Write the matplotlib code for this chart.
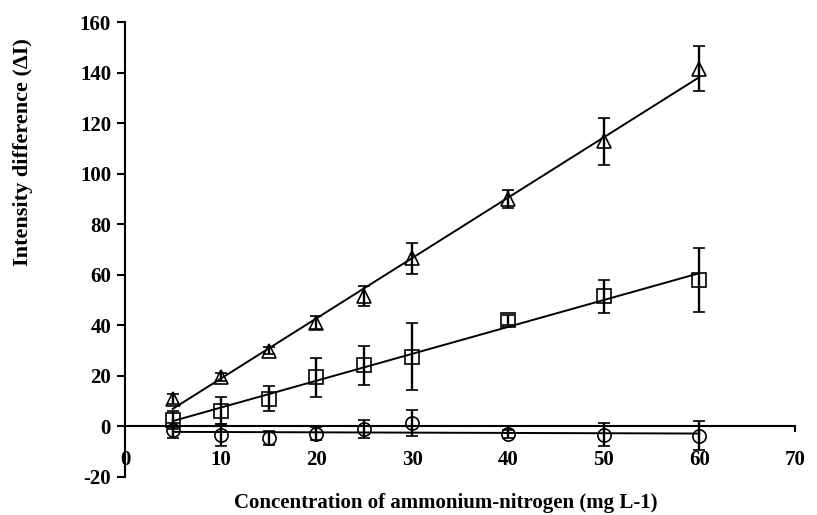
import numpy as np
import matplotlib
matplotlib.use("Agg")
import matplotlib.pyplot as plt

# data
conc = [5, 10, 15, 20, 25, 30, 40, 50, 60]
tri_y = [11, 19.5, 30, 41, 51.5, 66.5, 90, 112.8, 141.6]
tri_err = [2, 1.5, 1.5, 2.6, 4, 6, 3.4, 9.2, 8.9]
sq_y = [2.5, 6.3, 11, 19.4, 24.3, 27.6, 42, 51.5, 58]
sq_err = [3.5, 5.3, 4.9, 7.8, 7.7, 13.3, 2, 6.6, 12.7]
circ_y = [-1.6, -3.4, -4.5, -2.8, -1, 1.4, -3, -3.2, -3.7]
circ_err = [3, 4.5, 2.7, 2.5, 3.5, 5, 1.5, 4.7, 5.8]

x_ticks = [0, 10, 20, 30, 40, 50, 60, 70]
y_ticks = [-20, 0, 20, 40, 60, 80, 100, 120, 140, 160]

plt.rcParams['font.family'] = ['Liberation Serif', 'DejaVu Serif']
plt.rcParams['font.weight'] = 'bold'
plt.rcParams['axes.unicode_minus'] = False

fig = plt.figure(figsize=(8.17, 5.15), dpi=100)
ax = fig.add_axes([0.153, 0.0738, 0.82, 0.8832])

series = [(tri_y, tri_err, '^'), (sq_y, sq_err, 's'), (circ_y, circ_err, 'o')]
x = np.array(conc)
for ys, errs, mk in series:
    # linear trend line like excel
    k, b = np.polyfit(x, ys, 1)
    ax.plot(x, k * x + b, color='black', lw=1.4, zorder=2)
    ax.errorbar(conc, ys, yerr=errs, fmt=mk, color='black', mfc='none',
                mec='black', ms=9.5, mew=1.2, elinewidth=1.7, capsize=4.6,
                capthick=1.7, zorder=3)

ax.set_xlim(0, 70)
ax.set_ylim(-20, 160)
ax.set_xticks(x_ticks)
ax.set_yticks(y_ticks)

ax.spines['top'].set_visible(False)
ax.spines['right'].set_visible(False)
ax.spines['bottom'].set_position(('data', 0))
ax.spines['left'].set_linewidth(1.5)
ax.spines['bottom'].set_linewidth(1.5)

ax.tick_params(axis='y', direction='out', length=6, width=1.5, labelsize=15, pad=4)
ax.tick_params(axis='x', direction='out', length=4, width=1.5, labelsize=15, pad=13)
for lab in ax.get_xticklabels() + ax.get_yticklabels():
    lab.set_fontweight('bold')

fig.text(0.028, 1 - 152 / 515, 'Intensity difference (ΔI)', rotation=90,
         ha='center', va='center', fontsize=16, fontweight='bold')
fig.text(446 / 817, 1 - 503 / 515, 'Concentration of ammonium-nitrogen (mg L-1)',
         ha='center', va='center', fontsize=15, fontweight='bold')

fig.savefig('out.png', dpi=100)
